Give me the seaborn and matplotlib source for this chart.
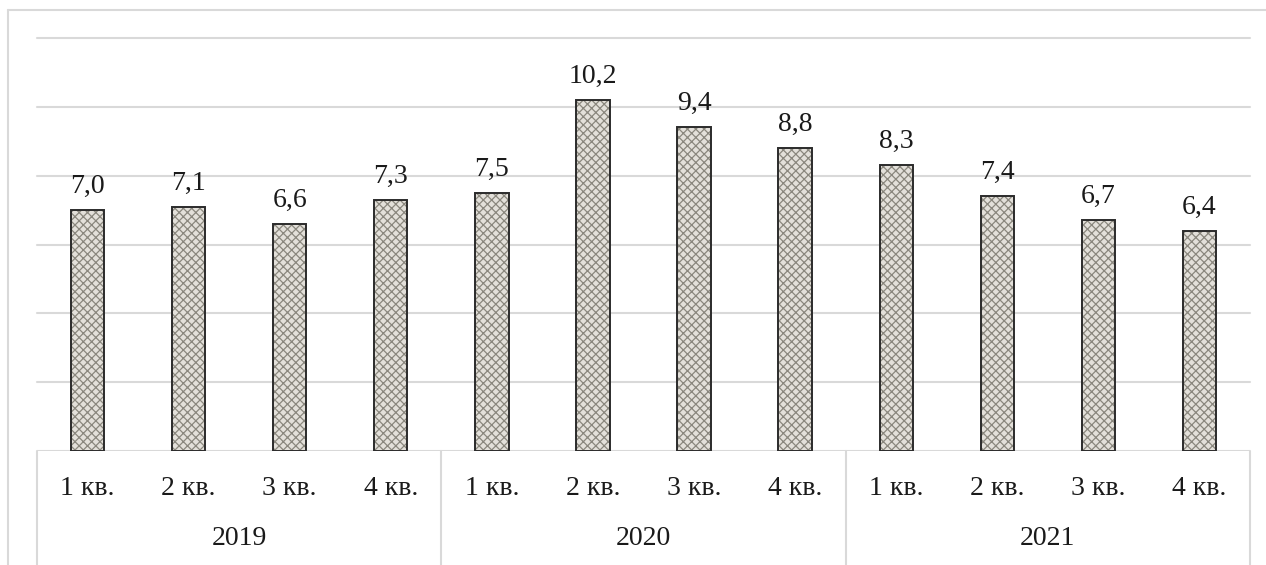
import matplotlib.pyplot as plt
import matplotlib.transforms as mtransforms
from matplotlib.lines import Line2D
import pandas as pd
import seaborn as sns

years = ["2019", "2020", "2021"]
quarters = ["1 кв.", "2 кв.", "3 кв.", "4 кв."]
values = [7.0, 7.1, 6.6, 7.3, 7.5, 10.2, 9.4, 8.8, 8.3, 7.4, 6.7, 6.4]

df = pd.DataFrame({
    "period": [f"{y} {q}" for y in years for q in quarters],
    "quarter": [q for _ in years for q in quarters],
    "value": values,
})

sns.set_theme(style="white")
plt.rcParams["font.family"] = ["Liberation Serif", "DejaVu Serif"]
plt.rcParams["hatch.linewidth"] = 0.9

fig = plt.figure(figsize=(12.66, 5.65), dpi=100)
ax = fig.add_axes([37 / 1266, 114 / 565, 1213 / 1266, 413 / 565])

# woven-looking fill: light face with dense grey hatch, dark outline on top
sns.barplot(data=df, x="period", y="value", ax=ax, width=0.33,
            color="#e4e1d8", edgecolor="#8a877e", linewidth=0, hatch="xxxx")
sns.barplot(data=df, x="period", y="value", ax=ax, width=0.33,
            fill=False, edgecolor="#2b2b2b", linewidth=1.4)

for c in ax.containers[:1]:
    ax.bar_label(c, labels=[f"{v:.1f}".replace(".", ",") for v in values],
                 padding=8, fontsize=20, color="#1a1a1a")

ax.set_ylim(0, 12)
ax.set_xlim(-0.5, len(values) - 0.5)
ax.set_yticks(range(2, 13, 2))
ax.yaxis.grid(True, color="#d9d9d9", linewidth=1.5)
for gl in ax.get_ygridlines():
    gl.set_clip_on(False)
ax.set_axisbelow(True)
ax.tick_params(left=False, labelleft=False, bottom=False, labelbottom=False)
ax.set_xlabel("")
ax.set_ylabel("")
for s in ax.spines.values():
    s.set_visible(False)

trans = mtransforms.blended_transform_factory(ax.transData, ax.transAxes)
ax.axhline(0, color="#d9d9d9", linewidth=1.5, zorder=0)

# category table below the axis
for i, q in enumerate(df["quarter"]):
    ax.text(i, -0.0896, q, transform=trans, ha="center", va="center",
            fontsize=20, color="#1a1a1a")
for j, y in enumerate(years):
    ax.text(j * 4 + 1.5, -0.211, y, transform=trans, ha="center", va="center",
            fontsize=20, color="#1a1a1a")
for xv in [-0.5, 3.5, 7.5, 11.5]:
    ax.plot([xv, xv], [0, -0.276], transform=trans, color="#d9d9d9",
            linewidth=1.5, clip_on=False)

# outer chart frame (only top and left visible in the crop)
fig.add_artist(Line2D([8 / 1266, 1], [1 - 10 / 565, 1 - 10 / 565],
                      color="#d9d9d9", linewidth=1.5))
fig.add_artist(Line2D([8 / 1266, 8 / 1266], [0, 1 - 10 / 565],
                      color="#d9d9d9", linewidth=1.5))

fig.savefig("out.png", dpi=100)
